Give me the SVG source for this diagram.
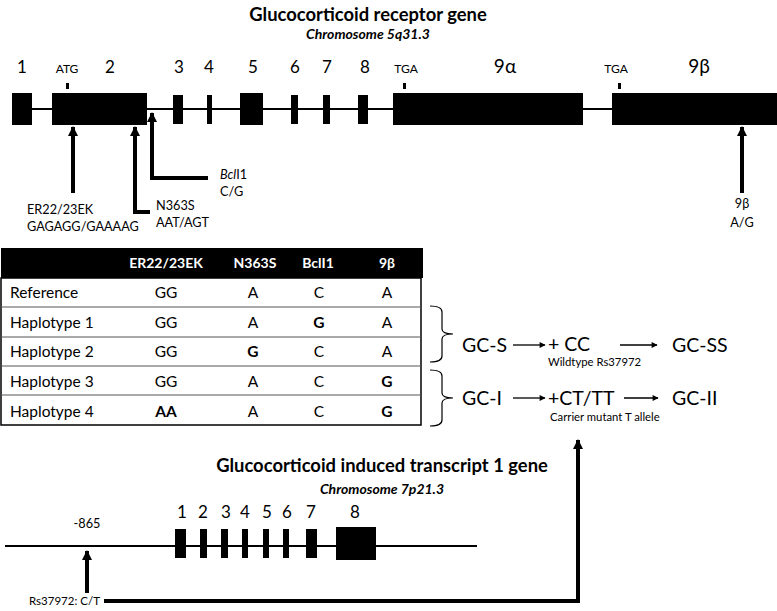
<svg xmlns="http://www.w3.org/2000/svg" width="777" height="611" viewBox="0 0 777 611">
<style>
text{font-family:Lato,"Liberation Sans",sans-serif;fill:#000}
.title{font-size:18.4px;font-weight:bold}
.sub{font-size:14px;font-weight:bold;font-style:italic}
.num{font-size:17px}
.greek{font-size:19px}
.small{font-size:12px}
.lbl{font-size:12.7px}
.th{font-size:14px;font-weight:bold;fill:#fff}
.td{font-size:15.5px}
.b{font-weight:bold}
.big{font-size:19.5px}
.tiny{font-size:11.3px}
.exon{fill:#000}
.gline{stroke:#000;stroke-width:2;fill:none}
.thick{stroke:#000;stroke-width:4;fill:none}
.thin{stroke:#000;stroke-width:1.3;fill:none}
.brace{stroke:#000;stroke-width:1.2;fill:none}
.row{stroke:#555;stroke-width:1.2}
</style>
<defs>
<marker id="ah" viewBox="0 0 10 10" refX="9" refY="5" markerWidth="10" markerHeight="10" markerUnits="userSpaceOnUse" orient="auto"><path d="M0,0 L10,5 L0,10 z" fill="#000"/></marker>
<marker id="ahs" viewBox="0 0 10 10" refX="9" refY="5" markerWidth="8" markerHeight="6" markerUnits="userSpaceOnUse" orient="auto"><path d="M0,0 L10,5 L0,10 z" fill="#000"/></marker>
</defs>

<g id="gr-gene">
<text class="title" x="368" y="21" text-anchor="middle">Glucocorticoid receptor gene</text>
<text class="sub" x="368" y="39" text-anchor="middle">Chromosome 5q31.3</text>
<line class="gline" x1="20" y1="109" x2="777" y2="109"/>
<rect class="exon" x="12" y="93" width="20" height="32"/>
<rect class="exon" x="52" y="93" width="95" height="32"/>
<rect class="exon" x="173" y="95" width="10" height="29"/>
<rect class="exon" x="207" y="95" width="5" height="29"/>
<rect class="exon" x="240" y="93" width="23" height="32"/>
<rect class="exon" x="291" y="95" width="7" height="29"/>
<rect class="exon" x="323" y="95" width="7" height="29"/>
<rect class="exon" x="358" y="95" width="10" height="29"/>
<rect class="exon" x="393" y="93" width="190" height="32"/>
<rect class="exon" x="612" y="93" width="165" height="32"/>
<rect class="exon" x="66" y="83" width="3" height="6"/>
<rect class="exon" x="403" y="83" width="3" height="6"/>
<rect class="exon" x="618" y="83" width="3" height="6"/>
<text class="num" x="22" y="73" text-anchor="middle">1</text>
<text class="num" x="110" y="73" text-anchor="middle">2</text>
<text class="num" x="179" y="73" text-anchor="middle">3</text>
<text class="num" x="209" y="73" text-anchor="middle">4</text>
<text class="num" x="253" y="73" text-anchor="middle">5</text>
<text class="num" x="295" y="73" text-anchor="middle">6</text>
<text class="num" x="327" y="73" text-anchor="middle">7</text>
<text class="num" x="365" y="73" text-anchor="middle">8</text>
<text class="greek" x="505" y="73" text-anchor="middle">9α</text>
<text class="greek" x="699" y="73" text-anchor="middle">9β</text>
<text class="small" x="67" y="73" text-anchor="middle">ATG</text>
<text class="small" x="406" y="73" text-anchor="middle">TGA</text>
<text class="small" x="616" y="73" text-anchor="middle">TGA</text>
</g>

<g id="snp-labels">
<text class="lbl" x="27" y="214">ER22/23EK</text>
<text class="lbl" x="27" y="231">GAGAGG/GAAAAG</text>
<text class="lbl" x="156" y="210">N363S</text>
<text class="lbl" x="156" y="227">AAT/AGT</text>
<text class="lbl" x="220" y="179"><tspan font-style="italic">Bcl</tspan>I1</text>
<text class="lbl" x="220" y="196">C/G</text>
<text class="lbl" x="742" y="208" text-anchor="middle">9β</text>
<text class="lbl" x="742" y="227" text-anchor="middle">A/G</text>
</g>

<g id="table">
<rect x="1" y="248" width="422" height="30" fill="#000"/>
<rect x="1" y="278" width="420" height="147" fill="#fff" stroke="#000" stroke-width="1.5"/>
<line class="row" x1="1" y1="307" x2="421" y2="307"/>
<line class="row" x1="1" y1="337" x2="421" y2="337"/>
<line class="row" x1="1" y1="366" x2="421" y2="366" stroke-width="2"/>
<line class="row" x1="1" y1="395" x2="421" y2="395"/>
<text class="th" x="166" y="268" text-anchor="middle">ER22/23EK</text>
<text class="th" x="255" y="268" text-anchor="middle">N363S</text>
<text class="th" x="318" y="268" text-anchor="middle">BclI1</text>
<text class="th" x="387" y="268" text-anchor="middle">9β</text>
<text class="td" x="10" y="298">Reference</text>
<text class="td" x="10" y="328">Haplotype 1</text>
<text class="td" x="10" y="357">Haplotype 2</text>
<text class="td" x="10" y="387">Haplotype 3</text>
<text class="td" x="10" y="417">Haplotype 4</text>
<g text-anchor="middle">
<text class="td" x="166" y="298">GG</text><text class="td" x="253" y="298">A</text><text class="td" x="319" y="298">C</text><text class="td" x="387" y="298">A</text>
<text class="td" x="166" y="328">GG</text><text class="td" x="253" y="328">A</text><text class="td b" x="319" y="328">G</text><text class="td" x="387" y="328">A</text>
<text class="td" x="166" y="357">GG</text><text class="td b" x="253" y="357">G</text><text class="td" x="319" y="357">C</text><text class="td" x="387" y="357">A</text>
<text class="td" x="166" y="387">GG</text><text class="td" x="253" y="387">A</text><text class="td" x="319" y="387">C</text><text class="td b" x="387" y="387">G</text>
<text class="td b" x="166" y="417">AA</text><text class="td" x="253" y="417">A</text><text class="td" x="319" y="417">C</text><text class="td b" x="387" y="417">G</text>
</g>
</g>

<g id="brace-s">
<path class="brace" d="M430,306 Q442,306 442,312 L442,329 Q442,334 453,334 Q442,334 442,339 L442,356 Q442,362 430,362"/>
</g>
<g id="brace-i">
<path class="brace" d="M430,370 Q442,370 442,376 L442,393 Q442,398 453,398 Q442,398 442,403 L442,420 Q442,426 430,426"/>
</g>

<g id="gc-s"><text class="big" x="462" y="352">GC-S</text></g>
<g id="cc"><text class="big" x="548" y="351">+ CC</text><text class="tiny" x="548" y="366">Wildtype Rs37972</text></g>
<g id="gc-ss"><text class="big" x="672" y="352">GC-SS</text></g>
<g id="gc-i"><text class="big" x="462" y="405">GC-I</text></g>
<g id="ct"><text class="big" x="548" y="405">+CT/TT</text><text class="tiny" x="550" y="421">Carrier mutant T allele</text></g>
<g id="gc-ii"><text class="big" x="672" y="405">GC-II</text></g>

<g id="gilz-gene">
<text class="title" x="382" y="472" text-anchor="middle">Glucocorticoid induced transcript 1 gene</text>
<text class="sub" x="382" y="494" text-anchor="middle">Chromosome 7p21.3</text>
<line class="gline" x1="5" y1="546" x2="477" y2="546"/>
<rect class="exon" x="175" y="529" width="11" height="29"/>
<rect class="exon" x="200" y="529" width="7" height="29"/>
<rect class="exon" x="221" y="529" width="7" height="29"/>
<rect class="exon" x="242" y="529" width="6" height="29"/>
<rect class="exon" x="263" y="529" width="6" height="29"/>
<rect class="exon" x="283" y="529" width="6" height="29"/>
<rect class="exon" x="306" y="529" width="11" height="29"/>
<rect class="exon" x="336" y="527" width="40" height="33"/>
<text class="num" x="182" y="518" text-anchor="middle">1</text>
<text class="num" x="203" y="518" text-anchor="middle">2</text>
<text class="num" x="226" y="518" text-anchor="middle">3</text>
<text class="num" x="245" y="518" text-anchor="middle">4</text>
<text class="num" x="267" y="518" text-anchor="middle">5</text>
<text class="num" x="287" y="518" text-anchor="middle">6</text>
<text class="num" x="311" y="518" text-anchor="middle">7</text>
<text class="num" x="355" y="518" text-anchor="middle">8</text>
<text class="lbl" x="87" y="528" text-anchor="middle" font-size="13">-865</text>
<text x="29" y="605" font-size="11.5">Rs37972: C/T</text>
</g>

<g id="connectors">
<line class="thick" x1="73" y1="193" x2="73" y2="127" marker-end="url(#ah)"/>
<polyline class="thick" points="150,212 135,212 135,127" marker-end="url(#ah)"/>
<polyline class="thick" points="208,178 152,178 152,113" marker-end="url(#ah)"/>
<line class="thick" x1="742" y1="193" x2="742" y2="127" marker-end="url(#ah)"/>
<line class="thick" x1="87" y1="593" x2="87" y2="551" marker-end="url(#ah)"/>
<polyline class="thick" points="104,601 578,601 578,440" marker-end="url(#ah)"/>
<line class="thin" x1="513" y1="345" x2="545" y2="345" marker-end="url(#ahs)"/>
<line class="thin" x1="620" y1="345" x2="657" y2="345" marker-end="url(#ahs)"/>
<line class="thin" x1="513" y1="398" x2="545" y2="398" marker-end="url(#ahs)"/>
<line class="thin" x1="624" y1="398" x2="658" y2="398" marker-end="url(#ahs)"/>
</g>
</svg>
